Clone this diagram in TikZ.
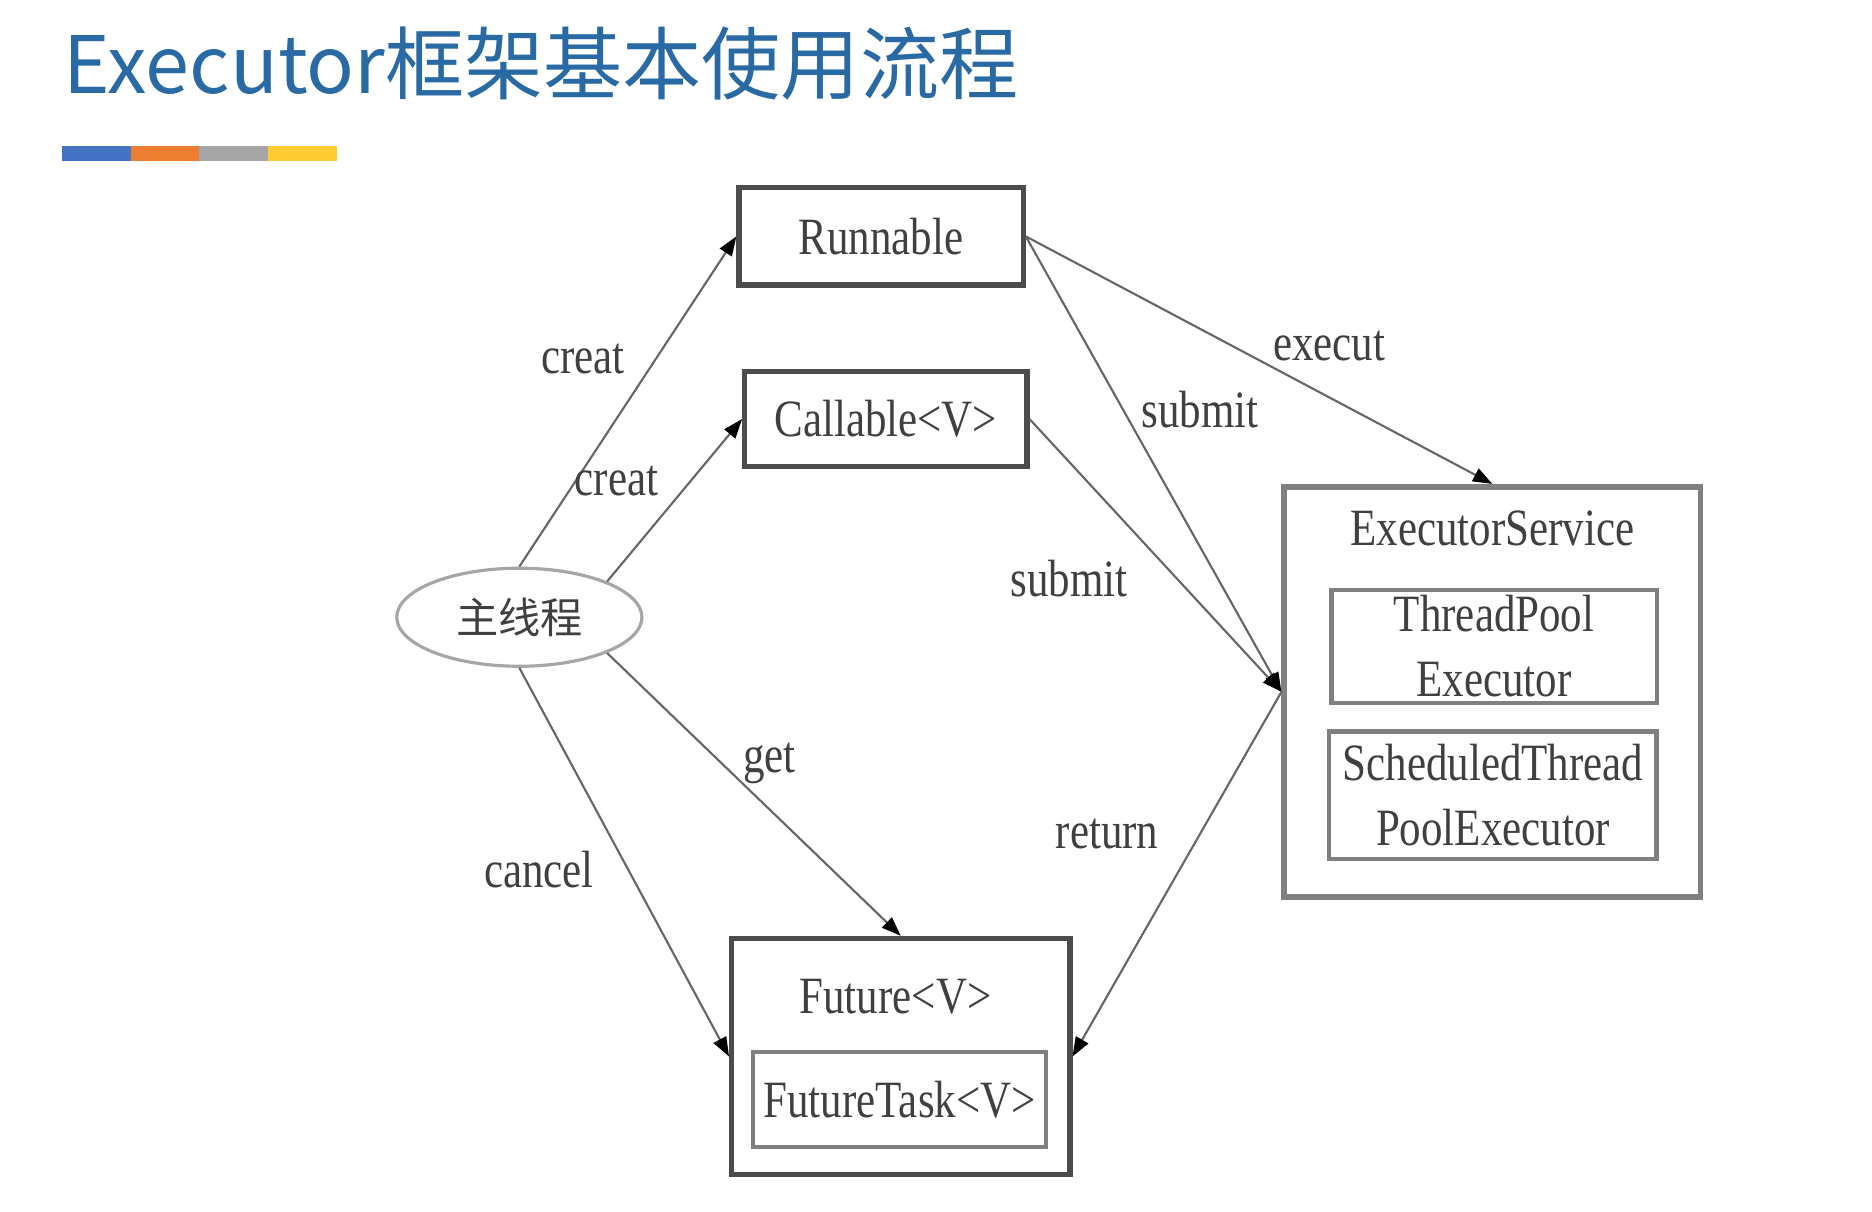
\documentclass[tikz,border=0pt]{standalone}
\usepackage{fontspec}
\setmainfont[FakeStretch=0.82]{Liberation Serif}
\newfontfamily\cjkfont{Noto Sans CJK SC}
\usepackage{tikz}
\usetikzlibrary{positioning, shapes, arrows.meta}
\definecolor{titleblue}{RGB}{41,106,165}
\definecolor{barblue}{RGB}{68,114,196}
\definecolor{barorange}{RGB}{237,125,49}
\definecolor{bargray}{RGB}{165,165,165}
\definecolor{baryellow}{RGB}{255,204,51}

\begin{document}
\begin{tikzpicture}[x=0.01194cm, y=-0.01194cm,
    txt/.style={text=black!75, font=\fontsize{14.9}{18.5}\selectfont},
    cls/.style={rectangle, draw=black!70, line width=1.5pt, inner sep=0pt, txt},
    grp/.style={rectangle, draw=black!50, line width=1.6pt, inner sep=0pt},
    sub/.style={rectangle, draw=black!50, line width=1.2pt, inner sep=0pt, align=center, txt},
    lbl/.style={txt, inner sep=1pt},
    flow/.style={draw=black!60, line width=0.6pt, -{Triangle[length=5.5pt, width=4pt, color=black]}}]
    \fill[white] (0,0) rectangle (1568,1015);
    \useasboundingbox (0,0) rectangle (1568,1015);

    \node[anchor=base west, inner sep=0pt, text=titleblue, font=\cjkfont\fontsize{22.5}{26}\selectfont] (title) at (53,78) {Executor框架基本使用流程};
    \foreach \c [count=\i] in {barblue, barorange, bargray, baryellow}
        \fill[\c] ({52+(\i-1)*57.5},122) rectangle ++(57.5,13);

    \node[cls, minimum width=2.84cm, minimum height=0.97cm] (run) at (738,198) {Runnable};
    \node[cls, minimum width=2.82cm, minimum height=0.95cm] (call) at (742,351) {Callable<V>};
    \node[ellipse, draw=black!35, line width=0.9pt, inner sep=0pt, minimum width=2.45cm, minimum height=0.98cm, txt] (main) at (435,517) {\cjkfont\fontsize{12}{14}\selectfont 主线程};

    \node[grp, minimum width=4.16cm, minimum height=4.1cm] (exec) at (1250,579.5) {};
    \node[txt] (execT) at (1250,443) {ExecutorService};
    \node[sub, minimum width=3.25cm, minimum height=1.13cm] (tpool) at (1251.5,541.5) {ThreadPool\\Executor};
    \node[sub, minimum width=3.27cm, minimum height=1.27cm] (spool) at (1250.5,666) {ScheduledThread\\PoolExecutor};

    \node[cls, minimum width=3.38cm, minimum height=2.36cm] (fut) at (754.5,885) {};
    \node[txt] (futT) at (750,835) {Future<V>};
    \node[sub, minimum width=2.93cm, minimum height=0.95cm] (ftask) at (753.5,921) {FutureTask<V>};

    \draw[flow] (main.north) -- node[lbl, pos=0.63, left=0.27cm] {creat} (run.west);
    \draw[flow] (main.north east) -- node[lbl, pos=0.62, left=0.28cm] {creat} (call.west);
    \draw[flow] (run.east) -- node[lbl, pos=0.65, above=0.32cm] {execut} (exec.north);
    \draw[flow] (run.east) -- node[lbl, pos=0.38, right=0.14cm] {submit} (exec.west);
    \draw[flow] (call.east) -- node[lbl, pos=0.585, left=0.45cm] {submit} (exec.west);
    \draw[flow] (exec.west) -- node[lbl, pos=0.39, left=0.37cm] {return} (fut.east);
    \draw[flow] (main.south east) -- node[lbl, pos=0.39, right=0.17cm] {get} (fut.north);
    \draw[flow] (main.south) -- node[lbl, pos=0.52, left=0.3cm] {cancel} (fut.west);
\end{tikzpicture}
\end{document}
